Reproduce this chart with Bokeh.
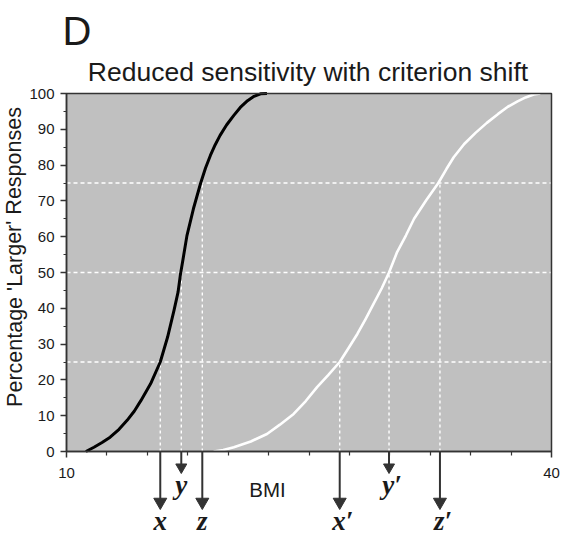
from bokeh.plotting import figure
from bokeh.models import FixedTicker, Label, Range1d
from bokeh.embed import file_html
from bokeh.resources import INLINE

# ---- data ----
bmi_limits = [10, 40]
pct_limits = [0, 100]
x_major = [10, 40]
x_minor = [12.5, 15, 17.5, 20, 22.5, 25, 27.5, 30, 32.5, 35, 37.5]
y_major = [0, 10, 20, 30, 40, 50, 60, 70, 80, 90, 100]
y_minor = [5, 15, 25, 35, 45, 55, 65, 75, 85, 95]

black_bmi = [11.2, 11.7, 12.2, 12.7, 13.25, 13.75, 14.2, 14.6, 15.2, 15.8, 16.25,
             16.65, 16.9, 17.05, 17.2, 17.45, 17.85, 18.3, 18.6, 18.9, 19.2,
             19.5, 19.9, 20.35, 20.75, 21.2, 21.6, 22.0, 22.4]
black_pct = [0, 1.2, 2.5, 4.0, 6.2, 8.7, 11.3, 14.2, 18.9, 25, 31.9,
             39.4, 44.5, 49.5, 53.5, 60.3, 67.8, 75, 79.2, 82.7, 85.7,
             88.3, 91.2, 93.9, 96.1, 98.0, 99.2, 99.9, 100]

white_bmi = [19.1, 19.7, 20.35, 21.4, 22.4, 23.2, 24.05, 24.8, 25.5, 26.2, 26.9,
             27.45, 28.0, 28.5, 29.0, 29.5, 29.95, 30.45, 31.0, 31.5, 32.25,
             33.0, 33.5, 33.95, 34.6, 35.3, 36.0, 36.7, 37.3, 37.9, 38.4, 38.9, 39.3]
white_pct = [0, 0.4, 1.2, 2.8, 4.9, 7.5, 10.5, 14.1, 18.0, 21.4, 25,
             28.9, 32.9, 37.0, 41.3, 45.6, 50, 55.7, 60.4, 65.0, 70.2,
             75, 78.9, 82.2, 85.9, 89.0, 91.8, 94.3, 96.3, 97.8, 98.9, 99.7, 100]

levels = [25, 50, 75]
black_marks = [15.8, 17.1, 18.4]
white_marks = [26.9, 29.95, 33.1]
black_names = ["x", "y", "z"]
white_names = ["x\u2032", "y\u2032", "z\u2032"]

title_text = "Reduced sensitivity with criterion shift"
panel_letter = "D"
x_label = "BMI"
y_label = "Percentage 'Larger' Responses"
prev_panel_label = "BMI"

# ---- layout: the frame covers the whole canvas, the plot box sits inside ----
W, H = 568, 535
BOX_L, BOX_R, BOX_T, BOX_B = 66, 551, 93, 451          # plot box in canvas pixels
px_x = (BOX_R - BOX_L) / (bmi_limits[1] - bmi_limits[0])
px_y = (BOX_B - BOX_T) / (pct_limits[1] - pct_limits[0])
xr = Range1d(bmi_limits[0] - BOX_L / px_x, bmi_limits[1] + (W - BOX_R) / px_x)
yr = Range1d(pct_limits[0] - (H - BOX_B) / px_y, pct_limits[1] + BOX_T / px_y)

def px(col):  # canvas column -> value on the BMI scale
    return bmi_limits[0] + (col - BOX_L) / px_x

def py(row):  # canvas row -> value on the percentage scale
    return pct_limits[0] + (BOX_B - row) / px_y

DARK = "#333333"
TXT = "#1a1a1a"
p = figure(width=W, height=H, x_range=xr, y_range=yr, title=None,
           output_backend="svg", toolbar_location=None, min_border=0,
           background_fill_color="white", border_fill_color="white")
p.outline_line_color = None
p.xgrid.grid_line_color = None
p.ygrid.grid_line_color = None

# gray plot box
p.quad(left=[bmi_limits[0]], right=[bmi_limits[1]], bottom=[pct_limits[0]], top=[pct_limits[1]],
       fill_color="#c0c0c0", line_color=None)

# axes fixed to the plot box edges
p.xaxis.fixed_location = pct_limits[0]
p.yaxis.fixed_location = bmi_limits[0]
p.xaxis.bounds = tuple(bmi_limits)
p.yaxis.bounds = tuple(pct_limits)
p.xaxis.ticker = FixedTicker(ticks=x_major, minor_ticks=x_minor)
p.yaxis.ticker = FixedTicker(ticks=y_major, minor_ticks=y_minor)
for ax in (p.xaxis, p.yaxis):
    ax.axis_line_color = DARK
    ax.axis_line_width = 1.5
    ax.major_tick_line_color = DARK
    ax.major_tick_line_width = 1.5
    ax.minor_tick_line_color = DARK
    ax.minor_tick_line_width = 1.2
    ax.major_tick_in = 0
    ax.minor_tick_in = 0
    ax.major_label_text_font = "Liberation Sans"
    ax.major_label_text_font_size = "15px"
    ax.major_label_text_color = TXT
p.xaxis.major_tick_out = 6
p.xaxis.minor_tick_out = 4
p.yaxis.major_tick_out = 6
p.yaxis.minor_tick_out = 3
p.xaxis.major_label_standoff = 10
p.yaxis.major_label_standoff = 6

# reference lines
n = len(levels)
p.segment(x0=[bmi_limits[0]] * n, y0=levels, x1=[bmi_limits[1]] * n, y1=levels,
          line_color="white", line_width=1.4, line_dash="4 3")
p.segment(x0=black_marks, y0=[0] * n, x1=black_marks, y1=levels,
          line_color="white", line_width=1.4, line_dash="3 3")
p.segment(x0=white_marks, y0=[0] * n, x1=white_marks, y1=levels,
          line_color="white", line_width=1.4, line_dash="3 3")

# psychometric curves
p.line(black_bmi, black_pct, line_color="black", line_width=3, line_join="round")
p.line(white_bmi, white_pct, line_color="white", line_width=2.6, line_join="round")

# box border on top
p.quad(left=[bmi_limits[0]], right=[bmi_limits[1]], bottom=[pct_limits[0]], top=[pct_limits[1]],
       fill_color=None, line_color=DARK, line_width=1.5)

# arrows below the axis
marks = black_marks + white_marks
names = black_names + white_names
is_short = [False, True, False, False, True, False]
long_tip, short_tip = py(509), py(473)
long_head, short_head = 13, 11
tips = [short_tip if s else long_tip for s in is_short]
heads = [short_head if s else long_head for s in is_short]
centers = [t + (0.577 * h) / px_y for t, h in zip(tips, heads)]
p.segment(x0=marks, y0=[0] * len(marks), x1=marks, y1=centers,
          line_color=DARK, line_width=2)
p.scatter(x=marks, y=centers, size=heads, marker="inverted_triangle",
          fill_color=DARK, line_color=DARK)

for m, nm, s in zip(marks, names, is_short):
    p.add_layout(Label(x=m, y=py(484) if s else py(520), text=nm,
                       text_align="center", text_baseline="middle",
                       x_offset=3 if "\u2032" in nm else 0,
                       text_font="Liberation Serif", text_font_style="bold italic",
                       text_font_size="27px", text_color=TXT))

p.add_layout(Label(x=px(267), y=py(488.5), text=x_label, text_align="center",
                   text_baseline="middle", text_font="Liberation Sans",
                   text_font_size="20.5px", text_color=TXT))
p.add_layout(Label(x=px(14), y=py(256.5), text=y_label, angle=1.5708,
                   text_align="center", text_baseline="middle",
                   text_font="Liberation Sans", text_font_size="21.5px",
                   text_color=TXT))
p.add_layout(Label(x=px(307.5), y=py(71), text=title_text, text_align="center",
                   text_baseline="middle", text_font="Liberation Sans",
                   text_font_size="26.5px", text_color=TXT))
p.add_layout(Label(x=px(62), y=py(30), text=panel_letter, text_align="left",
                   text_baseline="middle", text_font="Liberation Sans",
                   text_font_size="40px", text_color=TXT))
p.add_layout(Label(x=px(291), y=py(-9), text=prev_panel_label, text_align="center",
                   text_baseline="middle", text_font="Liberation Sans",
                   text_font_size="21px", text_color="#999999"))

open("out.html", "w").write(file_html(p, INLINE))
